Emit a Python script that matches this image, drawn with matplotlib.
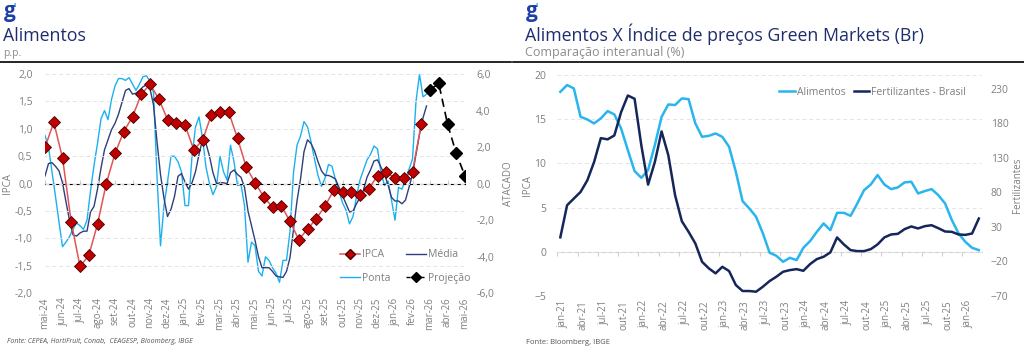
import matplotlib.pyplot as plt
import numpy as np
from matplotlib.lines import Line2D
from matplotlib.ticker import FuncFormatter

plt.rcParams['font.family'] = ['Open Sans', 'DejaVu Sans']

# ---------------- Alimentos (p.p.) ----------------
meses_esq = ['mai-24', 'jun-24', 'jul-24', 'ago-24', 'set-24', 'out-24', 'nov-24',
             'dez-24', 'jan-25', 'fev-25', 'mar-25', 'abr-25', 'mai-25', 'jun-25',
             'jul-25', 'ago-25', 'set-25', 'out-25', 'nov-25', 'dez-25', 'jan-26',
             'fev-26', 'mar-26', 'abr-26', 'mai-26']

# IPCA alimentos, quinzenal desde mai-24
ipca = [0.66, 1.12, 0.47, -0.70, -1.51, -1.31, -0.74, 0.00, 0.55, 0.95, 1.22,
        1.63, 1.81, 1.55, 1.17, 1.11, 1.07, 0.62, 0.79, 1.25, 1.31, 1.30, 0.83,
        0.30, 0.02, -0.24, -0.43, -0.40, -0.69, -1.02, -0.83, -0.64, -0.41,
        -0.12, -0.16, -0.15, -0.20, -0.09, 0.14, 0.21, 0.10, 0.10, 0.22, 1.09]
# projeção, quinzenal desde mar-26
projecao = [1.71, 1.83, 1.09, 0.55, 0.14]
proj_inicio = 22.0

# atacado (eixo direito), passo de 0,2 mês desde mai-24
passo_atacado = 0.2
ponta = [2.64, 2.0, 0.65, -0.7, -2.1, -3.45, -3.2, -2.9, -2.5, -2.15, -2.3, -2.5,
         -2.0, -0.4, 1.0, 2.2, 3.55, 4.0, 3.5, 4.6, 5.35, 5.75, 5.75, 5.65, 5.8,
         5.45, 5.1, 5.45, 5.85, 5.9, 5.6, 4.98, 0.4, -3.4, -1.2, 0.1, 1.5, 1.5,
         1.2, 0.65, -1.2, -1.2, 1.5, 3.1, 3.65, 2.5, 0.9, 0.0, -0.6, -0.15, 1.5,
         0.65, 0.2, 2.1, 1.2, -0.1, -0.05, -1.2, -4.3, -3.2, -3.4, -4.8, -5.05,
         -4.0, -4.2, -4.6, -4.9, -5.4, -4.2, -4.2, -2.6, 0.6, 2.1, 2.6, 3.4, 3.1,
         2.3, 1.35, 0.45, -0.15, 0.3, 1.05, 0.95, 0.2, -0.4, -1.05, -1.45, -2.2,
         -1.8, -0.7, 0.2, 0.75, 1.3, 1.6, 2.06, 1.9, 0.6, -0.1, 0.15, -0.9, -2.0,
         -0.2, -0.3, 0.2, 0.78, 1.35, 4.5, 5.98, 4.75, 4.9]
media = [0.42, 1.1, 1.15, 0.95, 0.7, 0.05, -1.0, -2.0, -2.8, -2.87, -2.7, -2.6,
         -2.6, -1.55, -1.25, -0.3, 0.85, 1.85, 2.4, 2.95, 3.3, 3.8, 4.45, 5.1,
         5.2, 4.9, 4.95, 5.1, 5.3, 5.4, 5.2, 4.3, 2.3, 0.5, -0.8, -1.8, -1.4,
         -0.7, 0.4, 0.55, 0.1, -0.3, 0.05, 0.65, 1.6, 2.4, 2.2, 1.5, 0.6, 0.0,
         0.05, 0.05, 0.0, 0.6, 0.75, 0.5, 0.35, -0.2, -1.5, -2.3, -3.1, -4.0,
         -4.6, -4.6, -4.6, -4.8, -5.05, -5.1, -5.13, -4.8, -4.05, -2.5, -0.95,
         0.24, 1.75, 2.4, 2.2, 1.8, 1.2, 0.7, 0.45, 0.45, 0.37, 0.25, -0.2, -0.65,
         -1.1, -1.55, -1.5, -1.1, -0.75, -0.35, 0.35, 0.75, 1.24, 1.3, 0.9, 0.5,
         -0.05, -0.75, -0.95, -0.95, -1.1, -0.9, -0.2, 0.5, 1.6, 2.7, 3.6, 4.25]

# ---------------- Alimentos x Green Markets ----------------
meses_dir = ['jan-21', 'abr-21', 'jul-21', 'out-21', 'jan-22', 'abr-22', 'jul-22',
             'out-22', 'jan-23', 'abr-23', 'jul-23', 'out-23', 'jan-24', 'abr-24',
             'jul-24', 'out-24', 'jan-25', 'abr-25', 'jul-25', 'out-25', 'jan-26']
# mensal, jan-21 a mar-26
alimentos = [18.1, 18.86, 18.48, 15.27, 14.97, 14.52, 15.09, 15.92, 15.54, 13.96,
             11.5, 9.13, 8.37, 9.24, 12.07, 15.27, 16.67, 16.6, 17.35, 17.27,
             14.52, 13.01, 13.12, 13.39, 13.0, 11.88, 9.05, 5.73, 4.9, 3.96, 2.1,
             -0.1, -0.45, -1.13, -0.68, -0.94, 0.45, 1.21, 2.26, 3.21, 2.45, 4.41,
             4.41, 4.07, 5.47, 6.98, 7.62, 8.68, 7.62, 7.09, 7.28, 7.85, 7.92, 6.6,
             6.87, 7.09, 6.41, 5.47, 3.59, 2.08, 1.13, 0.45, 0.19]
fertilizantes = [15, 61.4, 71.1, 80.7, 97.5, 124, 158.6, 156.8, 162.5, 196.2,
                 220.3, 215.6, 148.1, 91.3, 124, 168.3, 133.7, 75.9, 38.3, 22.9,
                 6.1, -20.5, -30, -37.2, -27.7, -33.9, -54.1, -62.8, -62.8, -63.8,
                 -56.6, -48.4, -42.1, -34.9, -32.5, -31.1, -33.5, -23.8, -16.6,
                 -13.2, -6.9, 14.8, 4.7, -3.6, -5, -5, -2.1, 4.7, 14.8, 19.1, 20,
                 26.8, 30.7, 27.8, 31.1, 32.5, 28.2, 23.4, 22.9, 19.1, 18.5, 20.5,
                 42.2]

cinza = '#7f7f7f'
azul_titulo = '#1e2d6b'
W, H = 1024, 357


def fx(x):
    return x / W


def fy(y):
    return 1 - y / H


virgula = FuncFormatter(lambda v, p: f'{v:.1f}'.replace('.', ','))

fig = plt.figure(figsize=(W / 100, H / 100), dpi=100)

# cabeçalhos
for x0, titulo, sub in [(3, 'Alimentos', 'p.p.'),
                        (525, 'Alimentos X Índice de preços Green Markets (Br)',
                         'Comparação interanual (%)')]:
    fig.text(fx(x0 + 1), fy(1), 'g', color='#1f3fa8', fontsize=15, fontweight='bold',
             va='top', ha='left')
    fig.text(fx(x0 + 11), fy(2), '\u2019', color='#29b5ee', fontsize=7,
             fontweight='bold', va='top', ha='left')
    fig.text(fx(x0), fy(41), titulo, color=azul_titulo, fontsize=12.8, va='baseline')
    fig.text(fx(x0), fy(56), sub, color='#8c8c8c', fontsize=9 if len(sub) > 5 else 7.5,
             va='baseline')
fig.add_artist(Line2D([0, fx(511)], [fy(62), fy(62)], color='black', lw=1.2))
fig.add_artist(Line2D([fx(513), 1], [fy(62), fy(62)], color='black', lw=1.2))

# ---------------- gráfico esquerdo ----------------
ax = fig.add_axes([fx(45), fy(293.3), fx(420), (293.3 - 74) / H])
ax2 = ax.twinx()
ax.set_zorder(ax2.get_zorder() + 1)
ax.patch.set_visible(False)

t_atacado = np.arange(len(ponta)) * passo_atacado
ax2.plot(t_atacado, ponta, color='#1cb1ee', lw=1.0)
ax2.plot(t_atacado, media, color='#2e3f7c', lw=1.0)
ax2.set_ylim(-6, 6)
ax2.set_yticks(np.arange(-6, 7, 2))
ax2.yaxis.set_major_formatter(virgula)

t_ipca = np.arange(len(ipca)) * 0.5
ax.plot(t_ipca, ipca, color='#e05555', lw=1.1, marker='D', markersize=6.5,
        markerfacecolor='#c00000', markeredgecolor='#4a0000', markeredgewidth=0.6)
t_proj = proj_inicio + np.arange(len(projecao)) * 0.5
ax.plot(t_proj, projecao, color='black', lw=1.2, ls=(0, (5, 3)), marker='D',
        markersize=6.5, markerfacecolor='black', markeredgecolor='black')
ax.set_ylim(-2, 2)
ax.set_yticks(np.arange(-2, 2.01, 0.5))
ax.yaxis.set_major_formatter(virgula)
ax.set_xlim(0, 24)
ax.set_xticks(np.arange(len(meses_esq)), meses_esq, rotation=90)
ax.grid(axis='y', color='#e4e4e4', ls=(0, (4, 3)), lw=0.7)
zero = ax.secondary_xaxis(0.5)
zero.set_xticks(np.arange(len(meses_esq)), [])
zero.spines['bottom'].set_color('#d0d0d0')
zero.tick_params(length=3, color='#d0d0d0')

for a in (ax, ax2):
    for s in a.spines.values():
        s.set_visible(False)
    a.tick_params(length=0, labelsize=7.5, labelcolor=cinza)
ax.tick_params(axis='x', labelsize=7, pad=3)
ax.tick_params(axis='y', pad=9)
ax2.tick_params(axis='y', pad=8)
ax.set_ylabel('IPCA', color=cinza, fontsize=7)
ax.yaxis.set_label_coords(-0.076, 0.5)
ax2.set_ylabel('ATACADO', color=cinza, fontsize=7)
ax2.yaxis.set_label_coords(1.09, 0.5)

hand = [Line2D([], [], color='#e05555', lw=1.1, marker='D', markersize=5,
               markerfacecolor='#c00000', markeredgecolor='#4a0000'),
        Line2D([], [], color='#1cb1ee', lw=1.0),
        Line2D([], [], color='#2e3f7c', lw=1.0),
        Line2D([], [], color='black', lw=1.0, ls=(0, (3, 2)), marker='D', markersize=5)]
ax.legend(hand, ['IPCA', 'Ponta', 'Média', 'Projeção'], ncol=2, loc='lower right',
          bbox_to_anchor=(1.035, 0.0), frameon=False, fontsize=7.5, labelcolor=cinza,
          handlelength=1.9, handletextpad=0.2, columnspacing=1.5, labelspacing=1.2)

fig.text(fx(7), fy(343), 'Fonte: CEPEA, HortiFruit, Conab,  CEAGESP, Bloomberg, IBGE',
         fontsize=5, style='italic', color='#555555', va='baseline')

# ---------------- gráfico direito ----------------
bx = fig.add_axes([fx(557.3), fy(296), fx(424.9), 221 / H])
bx2 = bx.twinx()
t_mes = np.arange(len(alimentos))
l1, = bx.plot(t_mes, alimentos, color='#29b5ee', lw=1.8)
l2, = bx2.plot(t_mes, fertilizantes, color='#15275a', lw=1.8)
bx.set_ylim(-5, 20)
bx.set_yticks(np.arange(-5, 21, 5))
bx2.set_ylim(-70, 250)
bx2.set_yticks(np.arange(-70, 231, 50))
bx.set_xlim(-0.45, 62.5)
pos_dir = np.arange(len(meses_dir)) * 3
bx.set_xticks(pos_dir + 0.4, meses_dir, rotation=90)
bx.grid(axis='y', color='#e4e4e4', ls=(0, (4, 3)), lw=0.7)
zero_b = bx.secondary_xaxis(0.2)
zero_b.set_xticks(pos_dir - 0.45, [])
zero_b.spines['bottom'].set_color('#d0d0d0')
zero_b.tick_params(length=3, color='#d0d0d0')
for a in (bx, bx2):
    for s in a.spines.values():
        s.set_visible(False)
    a.tick_params(length=0, labelsize=7.5, labelcolor=cinza)
bx.tick_params(axis='x', labelsize=7, pad=3)
bx.tick_params(axis='y', pad=8)
bx2.tick_params(axis='y', pad=6)
bx.set_ylabel('IPCA', color=cinza, fontsize=7)
bx.yaxis.set_label_coords(-0.057, 0.5)
bx2.set_ylabel('Fertilizantes', color=cinza, fontsize=7)
bx2.yaxis.set_label_coords(1.069, 0.5)
bx.legend([l1, l2], ['Alimentos', 'Fertilizantes - Brasil'], ncol=2, loc='center',
          bbox_to_anchor=(0.742, 0.923), frameon=False, fontsize=7.5, labelcolor=cinza,
          handlelength=1.5, handletextpad=0.2, columnspacing=0.8)

fig.text(fx(526), fy(344), 'Fonte: Bloomberg, IBGE', fontsize=5.5, color='#555555',
         va='baseline')

fig.savefig('out.png', dpi=100)
